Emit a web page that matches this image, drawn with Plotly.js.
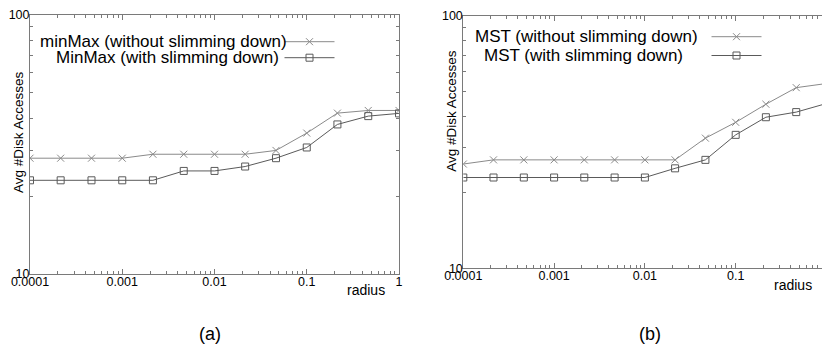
<!DOCTYPE html>
<html>
<head>
<meta charset="utf-8">
<script src="https://cdn.plot.ly/plotly-3.0.1.min.js"></script>
<style>html,body{margin:0;padding:0;background:#fff;}#chart{width:822px;height:345px;}</style>
</head>
<body>
<div id="chart"></div>
<script>
// radius values (x axis, log)
const radius = [0.0001, 0.000215, 0.000464, 0.001, 0.00215, 0.00464, 0.01, 0.0215, 0.0464, 0.1, 0.215, 0.464, 1];
// (a) minMax
const minMaxWithout = [28, 28, 28, 28, 29, 29, 29, 29, 30, 35, 41.8, 42.8, 42.8];
const minMaxWith    = [23, 23, 23, 23, 23, 25, 25, 26, 28, 30.8, 37.8, 40.7, 41.7];
// (b) MST
const mstWithout = [25.9, 26.9, 26.9, 26.9, 26.9, 26.9, 26.9, 26.9, 32.8, 37.9, 44.7, 52, 54];
const mstWith    = [22.9, 22.9, 22.9, 22.9, 22.9, 22.9, 22.9, 24.9, 26.9, 33.8, 39.7, 41.6, 45];

const seriesNames = ["minMax (without slimming down)", "MinMax (with slimming down)",
                     "MST (without slimming down)", "MST (with slimming down)"];
const xTickVals = [0.0001, 0.001, 0.01, 0.1, 1];
const xTickText = ["0.0001", "0.001", "0.01", "0.1", "1"];
const yTickVals = [10, 100];
const yTickText = ["10", "100"];
const subLabels = ["(a)", "(b)"];
const axisTitleY = "Avg #Disk Accesses";
const axisTitleX = "radius";

const minorX = [];
for (let e = -4; e < 0; e++) for (let m = 2; m <= 9; m++) minorX.push(m * Math.pow(10, e));
const minorY = [20, 30, 40, 50, 60, 70, 80, 90];

const W = 822, H = 345;
const px = x => x / W, py = y => 1 - y / H;
const FONT = "Liberation Sans, Arial, Helvetica, sans-serif";
const frame = "#7a7a7a";
const c1 = "#8a8a8a", c2 = "#5a5a5a";

function tr(y, meta, xa, ya, color, sym, leg) {
  return {
    x: radius, y: y, name: "", meta: meta, xaxis: xa, yaxis: ya, type: "scatter", mode: "lines+markers",
    line: {color: color, width: 1},
    marker: {symbol: sym, size: 7, color: color, line: {color: color, width: 1}},
    legend: leg, showlegend: true, hoverinfo: "x+y"
  };
}
const data = [
  tr(minMaxWithout, seriesNames[0], "x", "y", c1, "x-thin", "legend"),
  tr(minMaxWith, seriesNames[1], "x", "y", c2, "square-open", "legend2"),
  tr(mstWithout, seriesNames[2], "x2", "y2", c1, "x-thin", "legend3"),
  tr(mstWith, seriesNames[3], "x2", "y2", c2, "square-open", "legend4")
];

function xax(domain, range, anchor) {
  return {
    type: "log", domain: domain, range: range, anchor: anchor,
    showline: true, linecolor: frame, linewidth: 1, mirror: "ticks",
    ticks: "inside", ticklen: 5, tickcolor: frame, tickwidth: 1,
    tickmode: "array", tickvals: xTickVals, ticktext: xTickText,
    ticklabelstandoff: -4,
    minor: {tickmode: "array", tickvals: minorX, ticks: "inside", ticklen: 3, tickcolor: frame, showgrid: false},
    showgrid: false, zeroline: false,
    tickfont: {family: FONT, size: 12.5, color: "#000"}
  };
}
function yax(domain, anchor, mirror) {
  return {
    type: "log", domain: domain, range: [1, 2], anchor: anchor,
    showline: true, linecolor: frame, linewidth: 1, mirror: mirror,
    ticks: "inside", ticklen: 5, tickcolor: frame, tickwidth: 1,
    tickmode: "array", tickvals: yTickVals, ticktext: yTickText,
    ticklabelstandoff: -3,
    minor: {tickmode: "array", tickvals: minorY, ticks: "inside", ticklen: 3, tickcolor: frame, showgrid: false},
    showgrid: false, zeroline: false,
    tickfont: {family: FONT, size: 12.5, color: "#000"}
  };
}

function leg(x, y) {
  return {x: px(x), y: py(y), xanchor: "center", yanchor: "middle", xref: "paper", yref: "paper",
          bgcolor: "rgba(0,0,0,0)", borderwidth: 0, font: {family: FONT, size: 12}, itemwidth: 50};
}

function ann(text, x, y, size, extra) {
  return Object.assign({text: text, x: px(x), y: py(y), xref: "paper", yref: "paper",
    showarrow: false, xanchor: "center", yanchor: "middle",
    font: {family: FONT, size: size, color: "#000"}}, extra || {});
}

const layout = {
  width: W, height: H, margin: {l: 0, r: 0, t: 0, b: 0},
  paper_bgcolor: "#fff", plot_bgcolor: "#fff",
  xaxis: xax([px(30), px(399)], [-4, 0], "y"),
  yaxis: yax([py(274), py(15)], "x", "ticks"),
  xaxis2: xax([px(463.3), 1], [-4, -4 + (822 - 463.3) / 90.8], "y2"),
  yaxis2: yax([py(268.3), py(16)], "x2", false),
  legend: leg(312, 41.7),
  legend2: leg(312, 57.7),
  legend3: leg(739, 36.7),
  legend4: leg(739, 55.5),
  annotations: [
    ann(seriesNames[0], 163, 41.7, 17),
    ann(seriesNames[1], 167.5, 57.7, 17),
    ann(seriesNames[2], 586.7, 36.7, 17),
    ann(seriesNames[3], 583.8, 55.5, 17),
    ann(axisTitleY, 18, 132, 13.5, {textangle: -90}),
    ann(axisTitleY, 452, 110.7, 13.5, {textangle: -90}),
    ann(axisTitleX, 366, 290, 14),
    ann(axisTitleX, 792.5, 285, 14),
    ann(subLabels[0], 210, 334, 18),
    ann(subLabels[1], 650, 334, 18)
  ],
  showlegend: true
};

Plotly.newPlot("chart", data, layout, {displayModeBar: false, staticPlot: true});
</script>
</body>
</html>
